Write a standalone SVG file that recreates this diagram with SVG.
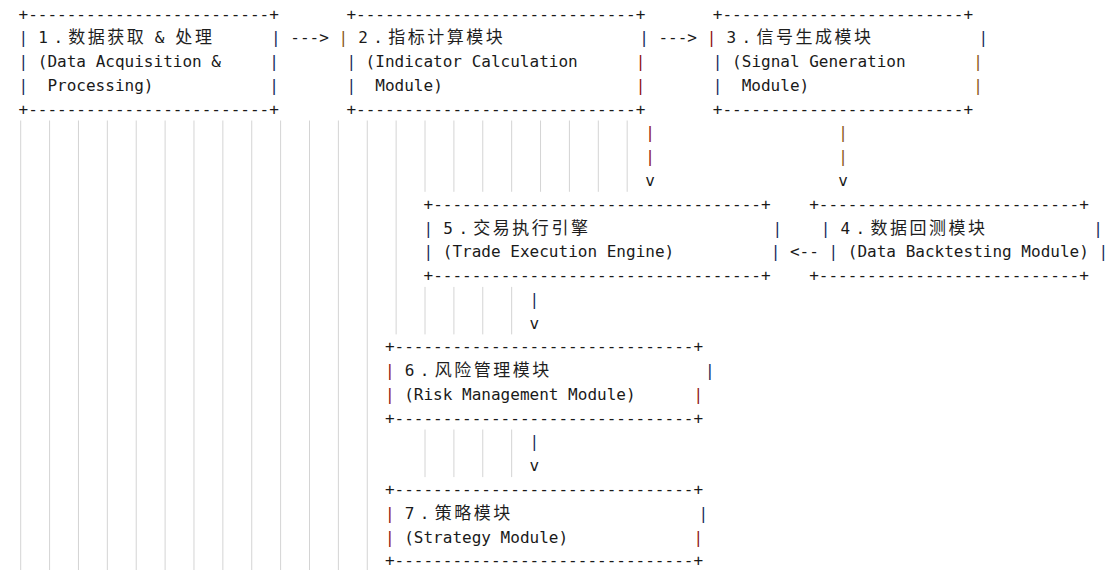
<svg xmlns="http://www.w3.org/2000/svg" width="1113" height="570" viewBox="0 0 1113 570" xml:space="preserve">
<style>
.t{font-family:"DejaVu Sans Mono","Liberation Mono",monospace;font-size:16.02px;fill:#1a1a1a;white-space:pre}
.c{font-family:"Noto Sans CJK SC","Noto Sans CJK JP",sans-serif;font-size:17px;letter-spacing:2.536px;fill:#1e1e1e}
.pr{fill:#8e1414}
.po{fill:#8a5716}
.pb{fill:#1b2a5c}
.g{stroke:#d4d4d4;stroke-width:1;fill:none}
</style>
<rect width="1113" height="570" fill="#ffffff"/>
<g id="guides" class="g">
<path d="M20.7 120.5V570M49.58 120.5V570M78.46 120.5V570M107.34 120.5V570M136.22 120.5V570M165.1 120.5V570M193.98 120.5V570M222.86 120.5V570M251.74 120.5V570M280.62 120.5V570M309.5 120.5V570M338.38 120.5V570M367.26 120.5V570"/>
<path d="M396.14 120.5V334.4"/>
<path d="M425.02 120.5V191.8M453.9 120.5V191.8M482.78 120.5V191.8M511.66 120.5V191.8M425.02 286.9V334.4M453.9 286.9V334.4M482.78 286.9V334.4M511.66 286.9V334.4M425.02 429.5V477.1M453.9 429.5V477.1M482.78 429.5V477.1M511.66 429.5V477.1"/>
<path d="M540.54 120.5V191.8M569.42 120.5V191.8M598.3 120.5V191.8M627.18 120.5V191.8"/>
</g>
<g id="node1">
<text class="t" x="18.5" y="19.6">+-------------------------+</text>
<text class="t" y="43.37"><tspan class="pb" x="18.5">|</tspan><tspan x="38.3">1</tspan><tspan x="53.4">.</tspan></text>
<text class="c" x="68.25" y="43.37">数据获取</text>
<text class="t" x="154.75" y="43.37">&amp;</text>
<text class="c" x="175.35" y="43.37">处理</text>
<text class="t pb" x="270.95" y="43.37">|</text>
<text class="t" y="67.14"><tspan class="pb" x="18.5">|</tspan><tspan x="37.8">(Data Acquisition &amp;</tspan><tspan class="pb" x="269.2">|</tspan></text>
<text class="t" y="90.91"><tspan class="pb" x="18.5">|</tspan><tspan x="47.4">Processing)</tspan><tspan class="pb" x="269.2">|</tspan></text>
<text class="t" x="18.5" y="114.68">+-------------------------+</text>
</g>
<g id="node2">
<text class="t" x="346.4" y="19.6">+-----------------------------+</text>
<text class="t" y="43.37"><tspan class="po" x="338.45">|</tspan><tspan x="358.25">2</tspan><tspan x="373.35">.</tspan></text>
<text class="c" x="388.2" y="43.37">指标计算模块</text>
<text class="t pb" x="639.2" y="43.37">|</text>
<text class="t" y="67.14"><tspan class="pb" x="346.4">|</tspan><tspan x="365.6">(Indicator Calculation</tspan><tspan class="pr" x="635.7">|</tspan></text>
<text class="t" y="90.91"><tspan class="pb" x="346.4">|</tspan><tspan x="375.3">Module)</tspan><tspan class="pr" x="635.7">|</tspan></text>
<text class="t" x="346.4" y="114.68">+-----------------------------+</text>
</g>
<g id="node3">
<text class="t" x="712.8" y="19.6">+-------------------------+</text>
<text class="t" y="43.37"><tspan class="pr" x="706.7">|</tspan><tspan x="726.4">3</tspan><tspan x="741.6">.</tspan></text>
<text class="c" x="756.45" y="43.37">信号生成模块</text>
<text class="t pb" x="978.45" y="43.37">|</text>
<text class="t" y="67.14"><tspan class="pb" x="712.8">|</tspan><tspan x="732.1">(Signal Generation</tspan><tspan class="po" x="973.2">|</tspan></text>
<text class="t" y="90.91"><tspan class="pb" x="712.8">|</tspan><tspan x="741.7">Module)</tspan><tspan class="po" x="973.2">|</tspan></text>
<text class="t" x="712.8" y="114.68">+-------------------------+</text>
</g>
<g id="node5">
<text class="t" x="423.5" y="209.76">+----------------------------------+</text>
<text class="t" y="233.53"><tspan class="pb" x="423.5">|</tspan><tspan x="443.3">5</tspan><tspan x="458.4">.</tspan></text>
<text class="c" x="473.25" y="233.53">交易执行引擎</text>
<text class="t pb" x="772.45" y="233.53">|</text>
<text class="t" y="257.3"><tspan class="pb" x="423.5">|</tspan><tspan x="442.8">(Trade Execution Engine)</tspan><tspan class="pb" x="770.7">|</tspan></text>
<text class="t" x="423.5" y="281.07">+----------------------------------+</text>
</g>
<g id="node4">
<text class="t" x="809.2" y="209.76">+---------------------------+</text>
<text class="t" y="233.53"><tspan class="pb" x="820.65">|</tspan><tspan x="840.45">4</tspan><tspan x="855.55">.</tspan></text>
<text class="c" x="870.4" y="233.53">数据回测模块</text>
<text class="t pb" x="1093.3" y="233.53">|</text>
<text class="t" y="257.3"><tspan class="pb" x="828.5">|</tspan><tspan x="847.8">(Data Backtesting Module)</tspan><tspan class="pb" x="1098.5">|</tspan></text>
<text class="t" x="809.2" y="281.07">+---------------------------+</text>
</g>
<g id="node6">
<text class="t" x="384.9" y="352.38">+-------------------------------+</text>
<text class="t" y="376.15"><tspan class="pr" x="384.9">|</tspan><tspan x="404.7">6</tspan><tspan x="419.7">.</tspan></text>
<text class="c" x="434.7" y="376.15">风险管理模块</text>
<text class="t pb" x="704.95" y="376.15">|</text>
<text class="t" y="399.92"><tspan class="pr" x="384.9">|</tspan><tspan x="404.2">(Risk Management Module)</tspan><tspan class="pr" x="693.5">|</tspan></text>
<text class="t" x="384.9" y="423.69">+-------------------------------+</text>
</g>
<g id="node7">
<text class="t" x="384.9" y="495">+-------------------------------+</text>
<text class="t" y="518.77"><tspan class="pr" x="384.9">|</tspan><tspan x="404.7">7</tspan><tspan x="419.7">.</tspan></text>
<text class="c" x="434.7" y="518.77">策略模块</text>
<text class="t pb" x="698.5" y="518.77">|</text>
<text class="t" y="542.54"><tspan class="pr" x="384.9">|</tspan><tspan x="404.2">(Strategy Module)</tspan><tspan class="pr" x="693.5">|</tspan></text>
<text class="t" x="384.9" y="566.31">+-------------------------------+</text>
</g>
<g id="connectors">
<text class="t" x="290.3" y="43.37">---&gt;</text>
<text class="t" x="658.4" y="43.37">---&gt;</text>
<text class="t pr" x="645.3" y="138.45">|</text>
<text class="t pr" x="645.3" y="162.22">|</text>
<text class="t" x="645.3" y="185.99">v</text>
<text class="t po" x="838.2" y="138.45">|</text>
<text class="t po" x="838.2" y="162.22">|</text>
<text class="t" x="838.2" y="185.99">v</text>
<text class="t" x="789.9" y="257.3">&lt;--</text>
<text class="t pb" x="529.6" y="304.84">|</text>
<text class="t" x="529.6" y="328.61">v</text>
<text class="t pb" x="529.6" y="447.46">|</text>
<text class="t" x="529.6" y="471.23">v</text>
</g>
</svg>
